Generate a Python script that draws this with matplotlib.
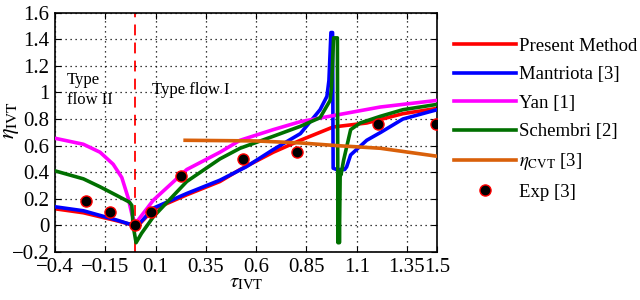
import matplotlib
matplotlib.use("Agg")
import matplotlib.pyplot as plt

plt.rcParams['font.family'] = ['Liberation Serif', 'DejaVu Serif']
plt.rcParams['mathtext.fontset'] = 'stix'

# Present Method
red_tau = [-0.4, -0.259, -0.176, -0.093, -0.03, 0.0, 0.02, 0.089, 0.255, 0.42, 0.52, 0.685, 0.82, 0.983, 1.15, 1.33, 1.5]
red_eta = [0.125, 0.095, 0.065, 0.035, 0.01, 0.0, 0.01, 0.12, 0.23, 0.33, 0.42, 0.55, 0.64, 0.74, 0.77, 0.84, 0.88]

# Mantriota [3]
blue_tau = [-0.4, -0.259, -0.176, -0.093, -0.03, 0.0, 0.023, 0.089, 0.255, 0.42, 0.55, 0.685, 0.82, 0.918, 0.952,
            0.962, 0.972, 0.98, 0.983, 1.0, 1.04, 1.05, 1.07, 1.15, 1.22, 1.33, 1.5]
blue_eta = [0.14, 0.11, 0.075, 0.04, 0.01, 0.0, 0.02, 0.13, 0.24, 0.34, 0.44, 0.57, 0.69, 0.87, 0.97,
            1.09, 1.45, 1.45, 0.43, 0.42, 0.42, 0.44, 0.53, 0.64, 0.70, 0.80, 0.87]

# Yan [1]
mag_tau = [-0.4, -0.259, -0.176, -0.111, -0.068, -0.037, -0.018, -0.005, 0.0, 0.013, 0.089, 0.255, 0.42, 0.52, 0.685,
           0.82, 1.0, 1.217, 1.5]
mag_eta = [0.655, 0.61, 0.55, 0.46, 0.36, 0.21, 0.085, 0.03, 0.01, 0.04, 0.19, 0.42, 0.55, 0.64, 0.72,
           0.78, 0.83, 0.89, 0.94]

# Schembri [2]
grn_tau = [-0.4, -0.259, -0.176, -0.093, -0.03, -0.018, -0.012, 0.003, 0.03, 0.089, 0.255, 0.42, 0.52, 0.685, 0.82,
           0.918, 0.968, 0.975, 0.985, 1.004, 1.007, 1.011, 1.014, 1.018, 1.022, 1.035, 1.07, 1.117, 1.217, 1.33, 1.5]
grn_eta = [0.41, 0.35, 0.29, 0.225, 0.175, 0.15, 0.0, -0.13, -0.06, 0.065, 0.33, 0.50, 0.58, 0.67, 0.745,
           0.81, 0.94, 1.04, 1.41, 1.41, -0.13, 0.35, -0.13, 0.4, 0.38, 0.49, 0.72, 0.77, 0.82, 0.87, 0.91]

# eta_CVT [3]
org_tau = [0.247, 0.6, 0.82, 1.0, 1.217, 1.5]
org_eta = [0.64, 0.635, 0.62, 0.60, 0.58, 0.52]

# Exp [3]
exp_tau = [-0.246, -0.125, 0.0, 0.076, 0.227, 0.537, 0.802, 1.205, 1.494]
exp_eta = [0.18, 0.10, 0.0, 0.10, 0.37, 0.50, 0.55, 0.76, 0.76]

xticks = [-0.4, -0.15, 0.1, 0.35, 0.6, 0.85, 1.1, 1.35, 1.5]
xlabels = ['\u22120.4', '\u22120.15', '0.1', '0.35', '0.6', '0.85', '1.1', '1.35', '1.5']
yticks = [-0.2, 0, 0.2, 0.4, 0.6, 0.8, 1.0, 1.2, 1.4, 1.6]
ylabels = ['\u22120.2', '0', '0.2', '0.4', '0.6', '0.8', '1', '1.2', '1.4', '1.6']

fig = plt.figure(figsize=(6.4, 3.0), dpi=100)
ax = fig.add_axes([0.086, 0.16, 0.597, 0.798])

ax.axvline(0, color='red', linestyle=(0, (6, 4)), linewidth=1.3, zorder=1)
lw = 2.6
ax.plot(red_tau, red_eta, color='red', lw=lw, label='Present Method', zorder=2)
ax.plot(blue_tau, blue_eta, color='blue', lw=lw, label='Mantriota [3]', zorder=3)
ax.plot(mag_tau, mag_eta, color='magenta', lw=lw, label='Yan [1]', zorder=3)
ax.plot(grn_tau, grn_eta, color='#007000', lw=lw, label='Schembri [2]', zorder=4)
ax.plot(org_tau, org_eta, color='#d9600a', lw=lw, label=r'$\eta_{\rm CVT}$ [3]', zorder=5)
ax.plot(exp_tau, exp_eta, 'o', color='black', markeredgecolor='red', markeredgewidth=1.0,
        markersize=8, label='Exp [3]', zorder=6)

ax.set_xlim(-0.4, 1.5)
ax.set_ylim(-0.2, 1.6)
ax.set_xticks(xticks)
ax.set_xticklabels(xlabels)
ax.set_yticks(yticks)
ax.set_yticklabels(ylabels)
ax.tick_params(direction='in', top=True, right=True, labelsize=15, length=4, pad=4)
ax.grid(True, color='black', linestyle=(0, (1, 3)), linewidth=0.9)
for s in ax.spines.values():
    s.set_linewidth(1.2)

ax.set_xlabel(r'$\tau_{\rm IVT}$', fontsize=15, labelpad=-2)
ax.set_ylabel(r'$\eta_{\rm IVT}$', fontsize=16)
ax.yaxis.set_label_coords(-0.09, 0.55)

ax.text(-0.34, 1.15, 'Type\nflow II', fontsize=12, va='top', ha='left', linespacing=1.3)
ax.text(0.083, 0.99, 'Type flow I', fontsize=12, va='baseline', ha='left')

fig.legend(loc='upper left', bbox_to_anchor=(0.695, 0.905), frameon=False, fontsize=13.5,
           handlelength=3.3, handletextpad=0.15, labelspacing=0.6, numpoints=1, borderpad=0)

fig.savefig('out.png', dpi=100)
